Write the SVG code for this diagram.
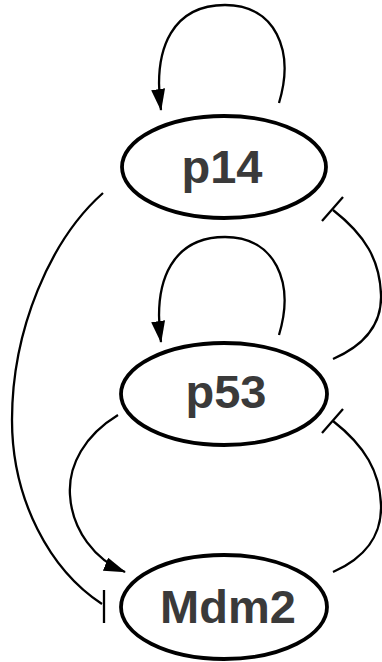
<svg xmlns="http://www.w3.org/2000/svg" width="382" height="662" viewBox="0 0 382 662">
<style>
.node ellipse{fill:#fff;stroke:#000;stroke-width:3.8}
.node text{font-family:"Liberation Sans",Arial,sans-serif;font-weight:bold;font-size:47px;fill:#3a3a3a;text-anchor:middle}
.edge{fill:none;stroke:#000;stroke-width:2.3}
.act{marker-end:url(#arrow)}
</style>
<defs>
<marker id="arrow" markerUnits="userSpaceOnUse" markerWidth="22" markerHeight="14" refX="21" refY="7" orient="auto">
<path d="M0,0 L22,7 L0,14 z" fill="#000"/>
</marker>
</defs>
<rect width="382" height="662" fill="#fff"/>
<g id="connectors">
<path class="edge act" d="M279,103 C295,50 275,5 225,5 C175,5 152,45 161,110"/>
<path class="edge act" d="M279,335 C295,282 275,237 225,237 C175,237 152,277 161,342"/>
<path class="edge act" d="M118,415 C85,435 68,465 70,495 C72,530 95,560 125,572"/>
<path class="edge" d="M103,193 C50,240 12,330 12,420 C12,500 50,570 102,604"/>
<line class="edge" x1="104" y1="590" x2="104" y2="623"/>
<path class="edge" d="M333,359 C365,345 382,325 381,295 C380,260 365,235 333,210"/>
<line class="edge" x1="322" y1="221" x2="343" y2="197"/>
<path class="edge" d="M333,572 C365,558 382,535 381,505 C380,472 365,446 333,421"/>
<line class="edge" x1="322" y1="433" x2="343" y2="409"/>
</g>
<g id="p14" class="node">
<ellipse cx="224" cy="167" rx="102" ry="51"/>
<text x="222" y="183">p14</text>
</g>
<g id="p53" class="node">
<ellipse cx="224" cy="394" rx="103" ry="51"/>
<text x="226" y="408">p53</text>
</g>
<g id="Mdm2" class="node">
<ellipse cx="224" cy="607" rx="103" ry="52"/>
<text x="228" y="623">Mdm2</text>
</g>
</svg>
